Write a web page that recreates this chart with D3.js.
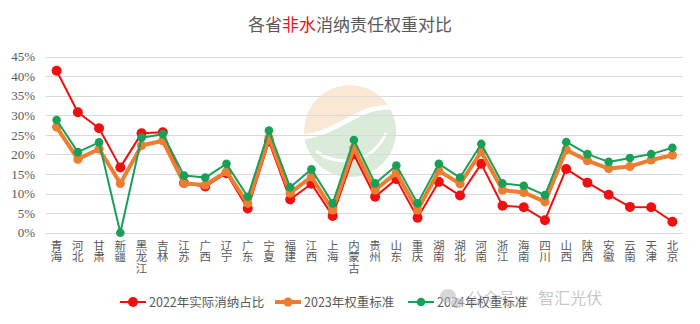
<!DOCTYPE html>
<html>
<head>
<meta charset="utf-8">
<script src="https://cdn.jsdelivr.net/npm/d3@7/dist/d3.min.js"></script>
<style>
  html, body { margin: 0; padding: 0; background: #fff; }
  svg { display: block; }
</style>
</head>
<body>
<svg id="chart" width="700" height="324"></svg>
<script>
// Provinces along the x axis
const provinces = ["青海","河北","甘肃","新疆","黑龙江","吉林","江苏","广西","辽宁","广东",
  "宁夏","福建","江西","上海","内蒙古","贵州","山东","重庆","湖南","湖北",
  "河南","浙江","海南","四川","山西","陕西","安徽","云南","天津","北京"];

// Non-hydro renewable consumption shares (%)
const actual2022 = [41.4,30.8,26.7,16.7,25.4,25.7,12.7,11.8,15.2,6.2,
  23.3,8.5,12.5,4.3,20.0,9.2,13.7,3.8,13.0,9.5,
  17.6,6.9,6.5,3.2,16.3,12.8,9.7,6.6,6.5,2.8];
const weight2023 = [27.0,18.8,21.4,12.6,22.3,23.5,12.6,12.2,15.6,7.5,
  24.3,10.1,14.3,5.8,21.6,10.9,15.3,5.8,15.8,12.5,
  20.7,10.9,10.3,7.9,21.2,18.4,16.4,16.9,18.6,19.8];
const weight2024 = [28.8,20.6,23.1,0,24.3,25.2,14.6,14.1,17.6,9.2,
  26.1,11.6,16.2,7.5,23.7,12.6,17.2,7.5,17.6,14.1,
  22.7,12.6,12.0,9.6,23.2,20.1,18.1,19.1,20.1,21.7];

const yTicks = [0,5,10,15,20,25,30,35,40,45];
const seriesNames = ["2022年实际消纳占比","2023年权重标准","2024年权重标准"];

const svg = d3.select("#chart");

const x = d3.scaleBand().domain(provinces).range([46, 683]);
const y = d3.scaleLinear().domain([0, 45]).range([232.7, 56.7]);
const cx = d => x(d) + x.bandwidth() / 2;

// Faint emblem behind the plot
const emb = svg.append("g").attr("opacity", 0.5);
const ec = {x: 350, y: 131, r: 46};
emb.append("defs").append("clipPath").attr("id", "embClip")
  .append("circle").attr("cx", ec.x).attr("cy", ec.y).attr("r", ec.r);
const eg = emb.append("g").attr("clip-path", "url(#embClip)");
const sCurve = `M${ec.x + ec.r + 5},${ec.y - 22} C${ec.x + 10},${ec.y - 32} ${ec.x - 10},${ec.y + 5} ${ec.x - ec.r - 5},${ec.y + 6}`;
eg.append("circle").attr("cx", ec.x).attr("cy", ec.y).attr("r", ec.r).attr("fill", "#f6d0aa");
eg.append("path")
  .attr("d", `${sCurve} L${ec.x - ec.r - 5},${ec.y + ec.r + 5} L${ec.x + ec.r + 5},${ec.y + ec.r + 5} Z`)
  .attr("fill", "#b6d9b6");
eg.append("path").attr("d", sCurve)
  .attr("fill", "none").attr("stroke", "#fff").attr("stroke-width", 5);
eg.append("path")
  .attr("d", `M${ec.x - 34},${ec.y + 20} C${ec.x - 15},${ec.y + 36} ${ec.x + 22},${ec.y + 34} ${ec.x + 36},${ec.y + 2}`)
  .attr("fill", "none").attr("stroke", "#fff").attr("stroke-width", 3);

// Title
const title = svg.append("text")
  .attr("x", 350).attr("y", 31)
  .attr("text-anchor", "middle")
  .attr("font-family", "'Noto Sans CJK SC', sans-serif")
  .attr("font-size", 17)
  .attr("fill", "#595959");
title.append("tspan").text("各省");
title.append("tspan").attr("fill", "#e8141c").text("非水");
title.append("tspan").text("消纳责任权重对比");

// Horizontal gridlines
svg.append("g").selectAll("line").data(yTicks).join("line")
  .attr("x1", 46).attr("x2", 683)
  .attr("y1", d => Math.round(y(d)) + 0.5).attr("y2", d => Math.round(y(d)) + 0.5)
  .attr("stroke", "#d9d9d9").attr("stroke-width", 1);

// Y axis labels
const yAxis = svg.append("g").attr("transform", "translate(35,0)")
  .call(d3.axisLeft(y).tickValues(yTicks).tickSize(0).tickPadding(0).tickFormat(d => d + "%"));
yAxis.select(".domain").remove();
yAxis.selectAll("text")
  .attr("font-family", "'Liberation Serif', serif")
  .attr("font-size", 13)
  .attr("fill", "#595959");

// X axis labels, characters stacked vertically
const xl = svg.append("g").selectAll("text").data(provinces).join("text")
  .attr("font-family", "'Noto Sans CJK SC', sans-serif")
  .attr("font-size", 11.5)
  .attr("fill", "#595959")
  .attr("text-anchor", "middle");
xl.each(function(d) {
  const t = d3.select(this);
  Array.from(d).forEach((ch, i) => {
    t.append("tspan").attr("x", cx(d)).attr("y", 249.5 + i * 11.8).text(ch);
  });
});

// Series
const series = [
  {name: seriesNames[0], values: actual2022, color: "#ee1010", width: 2, r: 5},
  {name: seriesNames[1], values: weight2023, color: "#ed7d31", width: 4, r: 4.6},
  {name: seriesNames[2], values: weight2024, color: "#18a058", width: 2, r: 4.3}
];
const line = d3.line().x((d, i) => cx(provinces[i])).y(d => y(d));
series.forEach(s => {
  const g = svg.append("g");
  g.append("path").attr("d", line(s.values))
    .attr("fill", "none").attr("stroke", s.color).attr("stroke-width", s.width)
    .attr("stroke-linejoin", "round");
  g.selectAll("circle").data(s.values).join("circle")
    .attr("cx", (d, i) => cx(provinces[i])).attr("cy", d => y(d))
    .attr("r", s.r).attr("fill", s.color);
});

// Legend
const legendX = [120, 275, 408];
const lg = svg.append("g").selectAll("g").data(series).join("g")
  .attr("transform", (d, i) => `translate(${legendX[i]},302)`);
lg.append("line").attr("x1", 0).attr("x2", 26).attr("y1", 0).attr("y2", 0)
  .attr("stroke", d => d.color).attr("stroke-width", d => d.width);
lg.append("circle").attr("cx", 13).attr("cy", 0).attr("r", d => d.r).attr("fill", d => d.color);
lg.append("text").attr("x", 29).attr("y", 4.5)
  .attr("font-family", "'Noto Sans CJK SC', sans-serif")
  .attr("font-size", 12.5)
  .attr("fill", "#595959")
  .text(d => d.name);

// Account mark, bottom right
const wm = svg.append("g").attr("opacity", 0.55);
wm.append("ellipse").attr("cx", 448).attr("cy", 296).attr("rx", 8).attr("ry", 7).attr("fill", "#b8b8b8");
wm.append("ellipse").attr("cx", 457).attr("cy", 303).attr("rx", 7).attr("ry", 6).attr("fill", "#b8b8b8").attr("stroke", "#fff").attr("stroke-width", 1.2);
wm.append("text").attr("x", 467).attr("y", 304)
  .attr("font-family", "'Noto Sans CJK SC', sans-serif")
  .attr("font-size", 16)
  .attr("fill", "#9a9a9a")
  .text("公众号 · 智汇光伏");
</script>
</body>
</html>
